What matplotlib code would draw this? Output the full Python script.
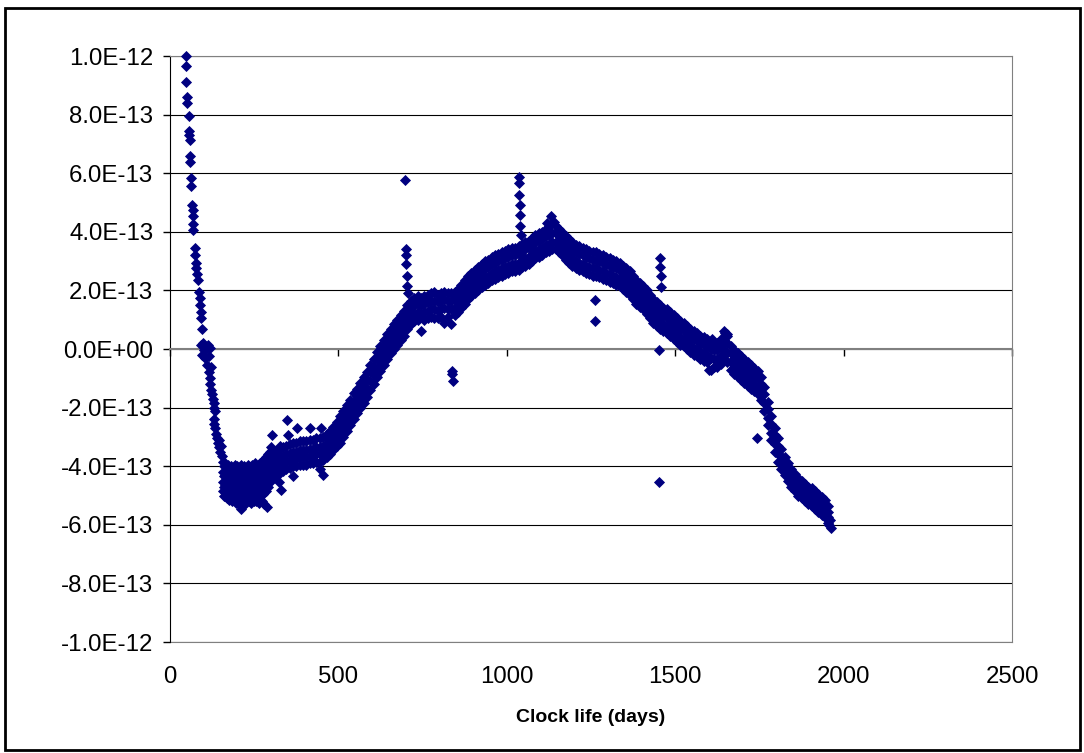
import matplotlib
matplotlib.use('Agg')
import matplotlib.pyplot as plt
from matplotlib.patches import Rectangle

plt.rcParams['font.family'] = ['Liberation Sans', 'DejaVu Sans']

# all drift readings below are in units of 1e-13
SCALE = 1e-13

# first weeks: fast fall from +1e-12 into the trough
early_days = [49, 49, 49, 52, 52, 56, 56, 57, 58, 59, 59, 63, 63, 66, 67, 67, 68, 69, 73, 74,
              76, 78, 80, 82, 86, 88, 89, 91, 92, 95,
              92, 98, 105, 112, 120, 100, 108, 95, 103, 115, 110, 122,
              117, 118, 120, 122, 125, 127, 130, 132, 134,
              130, 132, 134, 136, 140, 143, 146, 150, 154, 147, 152]
early_drift = [10.0, 9.65, 9.1, 8.6, 8.4, 7.95, 7.45, 7.3, 7.15, 6.6, 6.4, 5.85, 5.55, 4.9, 4.75,
               4.55, 4.25, 4.05, 3.45, 3.2, 2.95, 2.75, 2.55, 2.35, 1.95, 1.75, 1.5, 1.25, 1.05, 0.7,
               0.15, 0.2, 0.1, 0.15, 0.05, -0.05, 0.0, -0.2, -0.3, -0.25, -0.55, -0.6,
               -0.8, -1.0, -1.2, -1.4, -1.55, -1.7, -1.85, -2.0, -2.1,
               -2.4, -2.55, -2.7, -2.9, -3.05, -3.2, -3.35, -3.5, -3.65, -3.1, -3.3]

# trough, four readings per day
trough_days = [156, 160, 164, 168, 172, 176, 180, 184, 188, 192,
               196, 200, 204, 208, 212, 216, 220, 224, 228, 232,
               236, 240, 244, 248, 252, 256, 260, 264, 268, 272,
               276, 280, 284, 288, 292, 296, 300]
trough_a = [-3.85, -4.0, -3.9, -4.1, -3.95, -4.15, -4.0, -4.2, -4.05, -3.95,
            -4.15, -4.0, -4.2, -4.05, -3.95, -4.15, -4.0, -4.25, -4.1, -3.95,
            -4.05, -4.2, -3.95, -4.15, -3.9, -4.1, -4.0, -4.2, -3.9, -4.05,
            -3.8, -3.95, -3.7, -3.8, -3.6, -3.5, -3.35]
trough_b = [-4.2, -4.35, -4.3, -4.45, -4.3, -4.5, -4.35, -4.55, -4.4, -4.3,
            -4.5, -4.35, -4.55, -4.4, -4.3, -4.5, -4.35, -4.6, -4.45, -4.3,
            -4.4, -4.55, -4.3, -4.5, -4.25, -4.45, -4.35, -4.55, -4.25, -4.4,
            -4.15, -4.3, -4.05, -4.15, -3.95, -3.85, -3.7]
trough_c = [-4.55, -4.7, -4.65, -4.8, -4.65, -4.85, -4.7, -4.9, -4.75, -4.65,
            -4.85, -4.7, -4.9, -4.75, -4.65, -4.85, -4.7, -4.95, -4.8, -4.65,
            -4.75, -4.9, -4.65, -4.85, -4.6, -4.8, -4.7, -4.9, -4.6, -4.75,
            -4.5, -4.65, -4.4, -4.5, -4.3, -4.2, -4.05]
trough_d = [-4.85, -5.0, -5.0, -5.1, -5.0, -5.15, -5.1, -5.2, -5.05, -5.05,
            -5.25, -5.2, -5.3, -5.1, -5.45, -5.2, -5.15, -5.3, -5.1, -5.1,
            -5.2, -5.25, -5.05, -5.2, -5.0, -5.2, -5.1, -5.25, -5.0, -5.2,
            -4.95, -5.3, -4.85, -5.4, -4.7, -4.55, -4.4]

# main band, four readings per day
band_days = [305, 315, 325, 335, 345, 355, 365, 375, 385, 395,
             405, 415, 425, 435, 445, 455, 465, 475, 485, 495,
             505, 515, 525, 535, 545, 555, 565, 575, 585, 595,
             605, 615, 625, 635, 645, 655, 665, 675, 685, 695,
             705, 715, 725, 735, 745, 755, 765, 775, 785, 795,
             805, 815, 825, 835, 845, 855, 865, 875, 885, 895,
             905, 915, 925, 935, 945, 955, 965, 975, 985, 995,
             1005, 1015, 1025, 1035, 1045, 1055, 1065, 1075, 1085, 1095,
             1105, 1115, 1125, 1135, 1145, 1155, 1165, 1175, 1185, 1195,
             1205, 1215, 1225, 1235, 1245, 1255, 1265, 1275, 1285, 1295,
             1305, 1315, 1325, 1335, 1345, 1355, 1365, 1375, 1385, 1395,
             1405, 1415, 1425, 1435, 1445, 1455, 1465, 1475, 1485, 1495,
             1505, 1515, 1525, 1535, 1545, 1555, 1565, 1575, 1585, 1595,
             1605, 1615, 1625, 1635, 1645, 1655, 1665, 1675, 1685, 1695,
             1705, 1715, 1725, 1735, 1745, 1755, 1765, 1775, 1785, 1795,
             1805, 1815, 1825, 1835, 1845, 1855, 1865, 1875, 1885, 1895,
             1905, 1915, 1925, 1935, 1945, 1955]
band_a = [-3.6, -3.5, -3.45, -3.35, -3.3, -3.25, -3.2, -3.2, -3.15, -3.15,
          -3.15, -3.1, -3.1, -3.05, -3.05, -3.0, -2.9, -2.8, -2.65, -2.5,
          -2.3, -2.1, -1.9, -1.75, -1.5, -1.35, -1.15, -0.95, -0.8, -0.55,
          -0.35, -0.1, 0.1, 0.3, 0.5, 0.7, 0.85, 1.0, 1.15, 1.3,
          1.5, 1.65, 1.75, 1.8, 1.75, 1.8, 1.85, 1.9, 1.95, 1.85,
          1.9, 1.95, 1.9, 1.9, 1.95, 2.05, 2.2, 2.35, 2.5, 2.6,
          2.7, 2.8, 2.9, 3.0, 3.05, 3.15, 3.2, 3.25, 3.3, 3.35,
          3.4, 3.45, 3.45, 3.5, 3.6, 3.65, 3.7, 3.8, 3.9, 3.95,
          4.0, 4.1, 4.2, 4.3, 4.2, 4.1, 4.0, 3.85, 3.75, 3.65,
          3.55, 3.5, 3.45, 3.4, 3.35, 3.3, 3.3, 3.25, 3.2, 3.15,
          3.1, 3.05, 3.0, 2.95, 2.85, 2.75, 2.65, 2.5, 2.35, 2.25,
          2.15, 2.0, 1.85, 1.7, 1.6, 1.5, 1.4, 1.35, 1.25, 1.15,
          1.05, 0.95, 0.9, 0.8, 0.7, 0.6, 0.55, 0.45, 0.4, 0.35,
          0.25, 0.2, 0.2, 0.35, 0.6, 0.5, 0.1, -0.05, -0.15, -0.25,
          -0.35, -0.45, -0.55, -0.65, -0.75, -0.95, -1.3, -1.8, -2.3, -2.7,
          -3.05, -3.4, -3.7, -3.9, -4.1, -4.25, -4.4, -4.5, -4.6, -4.7,
          -4.75, -4.85, -4.95, -5.05, -5.15, -5.35]
band_b = [-3.9, -3.8, -3.7, -3.65, -3.6, -3.55, -3.5, -3.5, -3.45, -3.45,
          -3.45, -3.4, -3.4, -3.35, -3.35, -3.3, -3.2, -3.1, -2.95, -2.8,
          -2.6, -2.4, -2.2, -2.0, -1.8, -1.6, -1.4, -1.25, -1.05, -0.8,
          -0.6, -0.35, -0.15, 0.05, 0.25, 0.45, 0.6, 0.75, 0.9, 1.05,
          1.25, 1.4, 1.5, 1.55, 1.5, 1.55, 1.6, 1.65, 1.65, 1.6,
          1.65, 1.7, 1.65, 1.65, 1.7, 1.8, 1.95, 2.1, 2.25, 2.35,
          2.45, 2.55, 2.65, 2.75, 2.8, 2.9, 2.95, 3.0, 3.05, 3.1,
          3.15, 3.2, 3.2, 3.25, 3.35, 3.4, 3.45, 3.55, 3.65, 3.7,
          3.75, 3.85, 3.9, 3.95, 3.95, 3.85, 3.75, 3.6, 3.5, 3.4,
          3.3, 3.25, 3.2, 3.15, 3.1, 3.05, 3.05, 3.0, 2.95, 2.9,
          2.85, 2.8, 2.75, 2.7, 2.6, 2.5, 2.4, 2.25, 2.1, 2.0,
          1.9, 1.75, 1.6, 1.45, 1.35, 1.25, 1.15, 1.1, 1.0, 0.9,
          0.8, 0.7, 0.65, 0.55, 0.45, 0.35, 0.3, 0.2, 0.15, 0.1,
          0.0, -0.05, -0.05, 0.1, 0.3, 0.2, -0.15, -0.3, -0.4, -0.5,
          -0.6, -0.7, -0.8, -0.9, -1.0, -1.2, -1.55, -2.05, -2.55, -2.95,
          -3.3, -3.65, -3.9, -4.1, -4.3, -4.45, -4.6, -4.7, -4.8, -4.9,
          -4.95, -5.05, -5.15, -5.25, -5.35, -5.55]
band_c = [-4.15, -4.05, -4.0, -3.9, -3.85, -3.8, -3.75, -3.75, -3.7, -3.7,
          -3.7, -3.65, -3.65, -3.6, -3.6, -3.55, -3.45, -3.35, -3.2, -3.05,
          -2.9, -2.7, -2.5, -2.3, -2.1, -1.9, -1.7, -1.55, -1.35, -1.1,
          -0.9, -0.65, -0.45, -0.25, -0.05, 0.15, 0.3, 0.45, 0.6, 0.75,
          0.95, 1.1, 1.2, 1.25, 1.2, 1.25, 1.3, 1.35, 1.35, 1.3,
          1.35, 1.4, 1.35, 1.35, 1.4, 1.5, 1.65, 1.8, 1.95, 2.05,
          2.15, 2.25, 2.35, 2.45, 2.5, 2.6, 2.65, 2.7, 2.75, 2.8,
          2.85, 2.9, 2.9, 2.95, 3.05, 3.1, 3.15, 3.25, 3.35, 3.4,
          3.45, 3.55, 3.6, 3.65, 3.65, 3.55, 3.45, 3.3, 3.2, 3.1,
          3.0, 2.95, 2.9, 2.85, 2.8, 2.75, 2.75, 2.7, 2.65, 2.6,
          2.55, 2.5, 2.45, 2.4, 2.3, 2.2, 2.1, 1.95, 1.8, 1.7,
          1.6, 1.45, 1.3, 1.15, 1.05, 0.95, 0.85, 0.8, 0.7, 0.6,
          0.5, 0.4, 0.35, 0.25, 0.15, 0.05, 0.0, -0.1, -0.15, -0.2,
          -0.3, -0.35, -0.35, -0.25, -0.05, -0.15, -0.45, -0.6, -0.7, -0.8,
          -0.9, -1.0, -1.1, -1.2, -1.3, -1.5, -1.85, -2.35, -2.85, -3.25,
          -3.6, -3.85, -4.1, -4.3, -4.5, -4.65, -4.8, -4.9, -5.0, -5.1,
          -5.15, -5.25, -5.35, -5.45, -5.55, -5.75]
band_d = [-4.4, -4.3, -4.25, -4.15, -4.1, -4.05, -4.0, -4.0, -3.95, -3.95,
          -3.95, -3.9, -3.9, -3.85, -3.85, -3.8, -3.7, -3.6, -3.45, -3.3,
          -3.2, -3.0, -2.8, -2.6, -2.4, -2.2, -2.0, -1.85, -1.65, -1.4,
          -1.2, -0.95, -0.75, -0.55, -0.35, -0.15, 0.0, 0.15, 0.3, 0.45,
          0.7, 0.85, 0.95, 1.0, 0.6, 1.0, 1.05, 1.1, 1.05, 1.05,
          1.1, 0.9, 1.1, 0.85, 1.15, 1.25, 1.4, 1.55, 1.7, 1.8,
          1.9, 2.0, 2.1, 2.2, 2.25, 2.35, 2.4, 2.45, 2.5, 2.55,
          2.6, 2.65, 2.65, 2.7, 2.8, 2.85, 2.9, 3.0, 3.1, 3.15,
          3.2, 3.3, 3.35, 3.4, 3.4, 3.3, 3.2, 3.05, 2.95, 2.85,
          2.75, 2.7, 2.65, 2.6, 2.55, 2.5, 2.5, 2.45, 2.4, 2.35,
          2.3, 2.25, 2.2, 2.15, 2.05, 1.95, 1.85, 1.7, 1.55, 1.45,
          1.35, 1.2, 1.05, 0.9, 0.8, 0.7, 0.6, 0.55, 0.45, 0.35,
          0.25, 0.15, 0.1, 0.0, -0.1, -0.2, -0.25, -0.35, -0.4, -0.45,
          -0.7, -0.6, -0.6, -0.5, -0.35, -0.45, -0.7, -0.85, -0.95, -1.05,
          -1.15, -1.25, -1.35, -1.45, -1.55, -1.75, -2.1, -2.6, -3.1, -3.5,
          -3.85, -4.1, -4.3, -4.5, -4.7, -4.85, -5.0, -5.1, -5.2, -5.3,
          -5.35, -5.45, -5.55, -5.65, -5.75, -5.95]

# isolated readings away from the band
outlier_days = [302, 327, 346, 349, 376, 416, 447,
                325, 330, 366, 445, 455,
                698, 700, 701, 702, 703, 704, 706,
                836, 838, 839,
                1036, 1036, 1037, 1038, 1039, 1040, 1041,
                1120, 1131, 1140,
                1262, 1263,
                1452, 1455, 1456, 1457, 1458, 1453,
                1590, 1600, 1610, 1648, 1655,
                1743, 1950, 1958, 1960, 1962]
outlier_drift = [-2.95, -3.3, -2.42, -2.95, -2.7, -2.7, -2.7,
                 -4.55, -4.8, -4.35, -4.1, -4.3,
                 5.77, 3.4, 3.2, 2.9, 2.5, 2.15, 1.9,
                 -0.75, -0.85, -1.1,
                 5.87, 5.66, 5.26, 4.9, 4.57, 4.2, 3.9,
                 4.3, 4.55, 4.35,
                 1.67, 0.95,
                 -0.05, 3.1, 2.8, 2.5, 2.1, -4.55,
                 -0.3, -0.7, 0.35, 0.55, 0.45,
                 -3.05, -5.8, -6.0, -5.85, -6.1]

x_ticks = [0, 500, 1000, 1500, 2000, 2500]
y_ticks = [-1.0e-12, -8.0e-13, -6.0e-13, -4.0e-13, -2.0e-13, 0.0,
           2.0e-13, 4.0e-13, 6.0e-13, 8.0e-13, 1.0e-12]
y_tick_labels = ['-1.0E-12', '-8.0E-13', '-6.0E-13', '-4.0E-13', '-2.0E-13', '0.0E+00',
                 '2.0E-13', '4.0E-13', '6.0E-13', '8.0E-13', '1.0E-12']

MARKER_COLOR = '#000080'

fig = plt.figure(figsize=(10.84, 7.53), dpi=100)
ax = fig.add_axes([0.1568, 0.1474, 0.7768, 0.7782])

series = [
    (early_days, early_drift),
    (trough_days, trough_a), (trough_days, trough_b),
    (trough_days, trough_c), (trough_days, trough_d),
    (band_days, band_a), (band_days, band_b), (band_days, band_c), (band_days, band_d),
    (outlier_days, outlier_drift),
]
for days, drift in series:
    ax.scatter(days, [v * SCALE for v in drift], marker='D', s=32, color=MARKER_COLOR,
               linewidths=0, clip_on=False, zorder=3)

ax.set_xlim(0, 2500)
ax.set_ylim(-1e-12, 1e-12)
ax.set_yticks(y_ticks, labels=y_tick_labels)
ax.set_xticks(x_ticks)

# x axis crosses at zero, its labels stay at the bottom
ax.spines['bottom'].set_position(('data', 0))
ax.spines['bottom'].set_color('#808080')
ax.spines['bottom'].set_linewidth(1.5)
ax.tick_params(axis='x', direction='out', length=5, width=1, color='black', labelbottom=False)
ax.tick_params(axis='y', direction='out', length=5, width=1, color='black', pad=7, labelsize=17.3)
for side in ('top', 'right'):
    ax.spines[side].set_color('#808080')
ax.spines['left'].set_color('black')
ax.yaxis.grid(True, color='black', linewidth=0.8)
ax.set_axisbelow(True)

bottom = ax.secondary_xaxis('bottom')
bottom.set_xticks(x_ticks)
bottom.tick_params(length=0, pad=17, labelsize=17.3)
bottom.spines['bottom'].set_color('#808080')

fig.text(0.5452, 0.0465, 'Clock life (days)', ha='center', va='center',
         fontsize=14, fontweight='bold')

# chart area border
fig.patches.append(Rectangle((0.005, 0.004), 0.991, 0.985, transform=fig.transFigure,
                             fill=False, edgecolor='black', linewidth=2))

fig.savefig('out.png', dpi=100)
